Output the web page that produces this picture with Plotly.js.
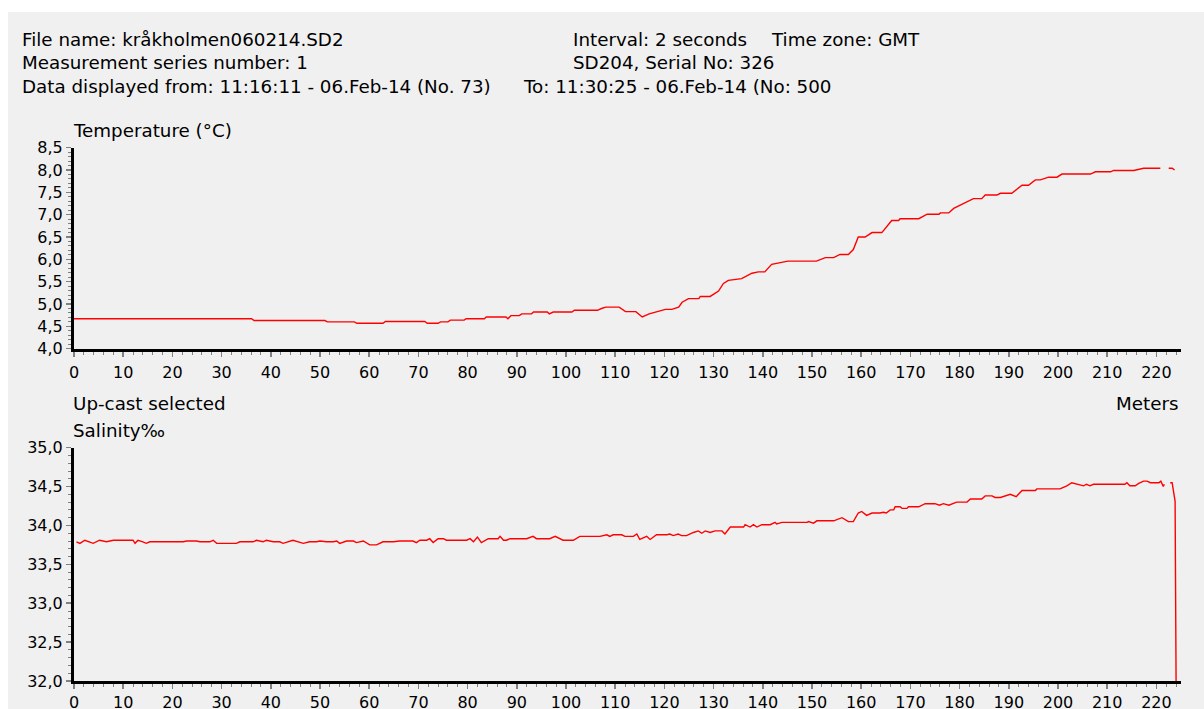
<!DOCTYPE html>
<html><head><meta charset="utf-8">
<script src="https://cdn.plot.ly/plotly-3.0.1.min.js"></script>
<style>
html,body{margin:0;padding:0;background:#fff;width:1204px;height:709px;overflow:hidden}
#chart{position:absolute;left:8px;top:12px;width:1196px;height:697px}
</style></head><body><div id="chart"></div>
<script>
// ---- data ----
const depthTemp = [
  0, 36.1, 36.6, 51.0, 51.5, 57.0, 57.5, 62.8, 63.3, 71.3,
  71.8, 74.0, 74.5, 76.0, 76.5, 79.3, 79.7, 83.4, 83.8, 87.8,
  88.2, 88.8, 90.5, 91.0, 93.0, 93.4, 96.2, 96.6, 97.4, 101.2,
  101.7, 106.4, 107.2, 108.1, 110.8, 112.1, 114.2, 115.5, 116.9, 118.6,
  120.2, 121.5, 122.9, 123.6, 124.9, 127.0, 127.3, 129.3, 131.0, 132.0,
  133.0, 135.7, 137.8, 139.1, 140.4, 141.8, 143.8, 145.1, 150.9, 152.7,
  154.4, 155.7, 157.4, 158.4, 159.4, 160.8, 162.2, 164.2, 166.2, 167.6,
  167.9, 171.7, 173.4, 175.8, 176.1, 177.8, 178.8, 180.8, 182.8, 184.5,
  185.2, 187.6, 188.3, 190.6, 192.7, 194.0, 195.4, 196.4, 198.1, 199.8,
  200.8, 206.6, 207.6, 210.7, 211.3, 215.4, 216.1, 217.4, 220.8, 221.6,
  222.5, 223.2, 223.7
];
const temperature = [
  4.67, 4.67, 4.63, 4.63, 4.60, 4.60, 4.57, 4.57, 4.61, 4.61,
  4.57, 4.57, 4.60, 4.60, 4.64, 4.64, 4.67, 4.67, 4.71, 4.71,
  4.67, 4.74, 4.74, 4.78, 4.78, 4.82, 4.82, 4.78, 4.82, 4.82,
  4.86, 4.86, 4.90, 4.93, 4.93, 4.83, 4.83, 4.71, 4.78, 4.84,
  4.88, 4.88, 4.93, 5.04, 5.12, 5.12, 5.17, 5.17, 5.29, 5.46,
  5.53, 5.57, 5.69, 5.72, 5.72, 5.89, 5.93, 5.96, 5.96, 6.04,
  6.04, 6.11, 6.11, 6.22, 6.50, 6.50, 6.60, 6.60, 6.87, 6.87,
  6.91, 6.91, 7.01, 7.01, 7.04, 7.04, 7.14, 7.25, 7.36, 7.36,
  7.44, 7.44, 7.48, 7.48, 7.66, 7.66, 7.78, 7.78, 7.84, 7.84,
  7.91, 7.91, 7.96, 7.96, 7.99, 7.99, 8.01, 8.04, 8.04, null,
  8.04, 8.04, 8.00
];
const depthSal = [
  0.5, 1.2, 2.2, 2.9, 3.9, 5.2, 6.6, 8.0, 12.0, 12.4,
  13.0, 14.0, 14.7, 15.4, 22.2, 22.9, 24.9, 25.6, 27.6, 28.3,
  29.0, 31.0, 33.0, 33.7, 36.4, 37.1, 38.4, 39.1, 40.5, 41.8,
  42.5, 44.5, 45.9, 46.6, 47.9, 49.3, 50.0, 51.3, 52.7, 53.4,
  54.0, 55.4, 56.8, 57.4, 58.8, 60.1, 61.5, 62.8, 64.9, 65.6,
  66.2, 68.9, 69.6, 70.3, 71.7, 72.3, 73.0, 74.0, 75.1, 75.7,
  79.8, 80.5, 81.2, 82.0, 82.8, 84.2, 86.2, 86.6, 87.3, 87.9,
  88.6, 92.0, 93.3, 94.0, 96.7, 97.8, 99.4, 101.5, 102.8, 106.9,
  108.3, 108.9, 109.6, 111.3, 112.0, 113.7, 114.4, 115.0, 116.4, 117.1,
  118.4, 120.5, 121.1, 121.8, 122.8, 123.5, 124.5, 125.9, 126.9, 127.6,
  128.3, 129.3, 130.3, 131.7, 132.3, 133.4, 134.7, 136.1, 136.4, 137.4,
  138.1, 138.8, 139.8, 141.5, 142.5, 142.8, 143.9, 147.6, 149.0, 149.3,
  150.3, 151.0, 154.4, 156.1, 157.4, 158.4, 159.4, 160.1, 161.1, 162.2,
  163.8, 164.5, 165.1, 165.9, 166.6, 166.9, 167.9, 168.3, 169.3, 169.6,
  171.7, 173.0, 175.0, 175.9, 176.7, 177.8, 179.4, 181.5, 182.2, 184.5,
  185.2, 186.6, 187.2, 188.3, 189.3, 190.3, 191.5, 192.7, 195.4, 195.7,
  200.4, 201.8, 202.8, 204.5, 205.2, 205.8, 206.5, 207.2, 213.6, 214.0,
  214.6, 215.7, 216.4, 217.4, 218.1, 218.8, 220.5, 220.9, 221.4, 221.6,
  222.2, 222.8, 223.2, 223.8, 224.0
];
const salinity = [
  33.79, 33.77, 33.81, 33.79, 33.77, 33.81, 33.79, 33.81, 33.81, 33.77,
  33.81, 33.79, 33.77, 33.79, 33.79, 33.80, 33.80, 33.79, 33.79, 33.81,
  33.77, 33.77, 33.77, 33.79, 33.79, 33.81, 33.79, 33.81, 33.79, 33.79,
  33.77, 33.81, 33.78, 33.77, 33.79, 33.79, 33.80, 33.79, 33.79, 33.80,
  33.77, 33.80, 33.80, 33.78, 33.80, 33.75, 33.75, 33.79, 33.79, 33.80,
  33.80, 33.80, 33.78, 33.81, 33.81, 33.83, 33.78, 33.83, 33.83, 33.81,
  33.81, 33.83, 33.79, 33.85, 33.78, 33.83, 33.83, 33.86, 33.81, 33.81,
  33.83, 33.83, 33.86, 33.83, 33.83, 33.86, 33.81, 33.81, 33.86, 33.86,
  33.88, 33.86, 33.88, 33.88, 33.86, 33.86, 33.89, 33.82, 33.86, 33.82,
  33.88, 33.88, 33.89, 33.87, 33.89, 33.87, 33.87, 33.91, 33.93, 33.90,
  33.93, 33.91, 33.93, 33.93, 33.89, 33.98, 33.98, 33.98, 34.01, 33.98,
  34.01, 33.98, 34.01, 34.01, 34.04, 34.02, 34.04, 34.04, 34.04, 34.05,
  34.03, 34.06, 34.06, 34.10, 34.05, 34.05, 34.16, 34.18, 34.13, 34.16,
  34.16, 34.17, 34.16, 34.20, 34.20, 34.24, 34.24, 34.22, 34.22, 34.24,
  34.24, 34.28, 34.28, 34.26, 34.28, 34.26, 34.30, 34.30, 34.34, 34.34,
  34.38, 34.38, 34.36, 34.36, 34.38, 34.40, 34.37, 34.45, 34.45, 34.47,
  34.47, 34.51, 34.55, 34.52, 34.51, 34.53, 34.51, 34.53, 34.53, 34.55,
  34.51, 34.51, 34.54, 34.57, 34.57, 34.55, 34.55, 34.57, 34.50, 34.53,
  null, 34.55, 34.55, 34.31, 32.0
];
const headerTexts = [
  "File name: kråkholmen060214.SD2",
  "Measurement series number: 1",
  "Data displayed from: 11:16:11 - 06.Feb-14 (No. 73)",
  "Interval: 2 seconds",
  "Time zone: GMT",
  "SD204, Serial No: 326",
  "To: 11:30:25 - 06.Feb-14 (No: 500"
];
const tempTitle = "Temperature (°C)";
const castLabel = "Up-cast selected";
const salTitle = "Salinity‰";
const xUnit = "Meters";

// ---- geometry ----
const OX = 8, OY = 12, W = 1196, H = 697, ML = 66.3, MR = 23.4;
const PW = W - ML - MR;
const px = x => (x - OX - ML) / PW;
const py = y => 1 - (y - OY) / H;

const FONT = "DejaVu Sans";
const tickFont = {family: FONT, size: 16, color: "#000"};
const txtFont = {family: FONT, size: 18.3, color: "#000"};

function xAxis(anchor, standoff) {
  return {
    anchor: anchor, domain: [0, 1], range: [0, 225],
    tick0: 0, dtick: 10, ticks: "outside", ticklen: 5, tickwidth: 1.5, tickcolor: "#808080",
    minor: {dtick: 2, ticks: "outside", ticklen: 3, tickwidth: 1, tickcolor: "#808080", showgrid: false},
    showline: true, linecolor: "#000", linewidth: 3, showgrid: false, zeroline: false,
    ticklabelstandoff: standoff,
    tickfont: tickFont, fixedrange: true
  };
}
function yAxis(anchor, dom, rng) {
  return {
    anchor: anchor, domain: dom, range: rng,
    dtick: 0.5, tick0: 0, tickformat: ".1f",
    ticks: "outside", ticklen: 5, tickwidth: 1.5, tickcolor: "#808080",
    minor: {dtick: 0.1, ticks: "outside", ticklen: 3, tickwidth: 1, tickcolor: "#808080", showgrid: false},
    showline: true, linecolor: "#000", linewidth: 3, showgrid: false, zeroline: false,
    tickfont: tickFont, fixedrange: true
  };
}

const traces = [
  {x: depthTemp, y: temperature, xaxis: "x", yaxis: "y", type: "scatter", mode: "lines",
   line: {color: "#ff0000", width: 1.4}, connectgaps: false, hoverinfo: "skip"},
  {x: depthSal, y: salinity, xaxis: "x2", yaxis: "y2", type: "scatter", mode: "lines",
   line: {color: "#ff0000", width: 1.4}, connectgaps: false, hoverinfo: "skip"}
];

function ann(text, x, y, xanchor) {
  return {text: text, x: px(x), y: py(y), xref: "paper", yref: "paper",
    xanchor: xanchor || "left", yanchor: "middle", showarrow: false,
    font: txtFont, borderpad: 0, borderwidth: 0};
}

const annotations = [
  ann(headerTexts[0], 22, 39.5),
  ann(headerTexts[1], 22, 62.8),
  ann(headerTexts[2], 22, 86.1),
  ann(headerTexts[3], 573, 39.5),
  ann(headerTexts[4], 771, 39.5),
  ann(headerTexts[5], 573, 62.8),
  ann(headerTexts[6], 523, 86.1),
  ann(tempTitle, 73, 130),
  ann(castLabel, 73, 403),
  ann(salTitle, 73, 430),
  ann(xUnit, 1178, 403, "right")
];

const layout = {
  width: W, height: H,
  margin: {l: ML, r: MR, t: 0, b: 0, pad: 0},
  paper_bgcolor: "#f0f0f0", plot_bgcolor: "#f0f0f0",
  separators: ",.",
  showlegend: false,
  font: {family: FONT, color: "#000"},
  xaxis: xAxis("y", 2),
  yaxis: yAxis("x", [py(348.7), py(147.7)], [4.0, 8.5]),
  xaxis2: xAxis("y2", 0),
  yaxis2: yAxis("x2", [py(681), py(447.7)], [32.0, 35.0]),
  annotations: annotations
};

Plotly.newPlot("chart", traces, layout, {staticPlot: true, displayModeBar: false});
</script></body></html>
